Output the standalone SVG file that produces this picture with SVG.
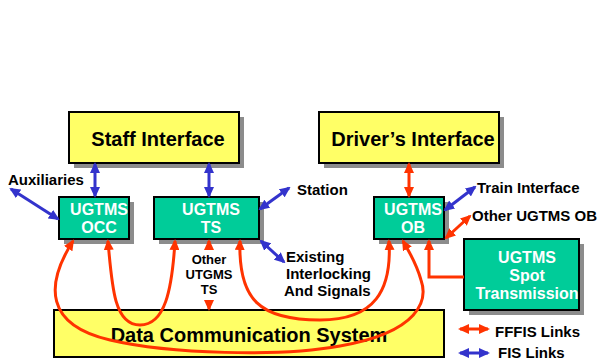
<svg xmlns="http://www.w3.org/2000/svg" width="599" height="361" viewBox="0 0 599 361">
<defs>
<style>
.shadow{fill:#8c8c8c}
.yel{fill:#ffff66;stroke:#000;stroke-width:2}
.grn{fill:#00cc99;stroke:#000;stroke-width:2}
.big{font-family:"Liberation Sans",Arial,sans-serif;font-weight:bold;font-size:20px;fill:#000;text-anchor:middle}
.wt{font-family:"Liberation Sans",Arial,sans-serif;font-weight:bold;font-size:16px;fill:#fff;text-anchor:middle}
.lbl{font-family:"Liberation Sans",Arial,sans-serif;font-weight:bold;font-size:15px;fill:#000}
.sm{font-family:"Liberation Sans",Arial,sans-serif;font-weight:bold;font-size:13px;fill:#000;text-anchor:middle}
.red{stroke:#ff3300;stroke-width:3;fill:none}
.blue{stroke:#3333cc;stroke-width:3;fill:none}
</style>
<marker id="ar" markerUnits="userSpaceOnUse" markerWidth="11" markerHeight="10" refX="9" refY="5" orient="auto-start-reverse"><path d="M0,0 L11,5 L0,10 z" fill="#ff3300"/></marker>
<marker id="ab" markerUnits="userSpaceOnUse" markerWidth="11" markerHeight="10" refX="9" refY="5" orient="auto-start-reverse"><path d="M0,0 L11,5 L0,10 z" fill="#3333cc"/></marker>
</defs>
<rect width="599" height="361" fill="#fff"/>

<g id="staff">
<rect class="shadow" x="74" y="117" width="170" height="51"/>
<rect class="yel" x="69" y="112" width="170" height="51"/>
<text class="big" x="158" y="146">Staff Interface</text>
</g>
<g id="driver">
<rect class="shadow" x="324" y="117" width="180" height="51"/>
<rect class="yel" x="319" y="112" width="180" height="51"/>
<text class="big" x="413" y="146">Driver’s Interface</text>
</g>
<g id="occ">
<rect class="shadow" x="64" y="202" width="70" height="42"/>
<rect class="grn" x="59" y="197" width="70" height="42"/>
<text class="wt" x="99" y="215">UGTMS</text>
<text class="wt" x="99" y="233">OCC</text>
</g>
<g id="ts">
<rect class="shadow" x="159" y="202" width="105" height="42"/>
<rect class="grn" x="154" y="197" width="105" height="42"/>
<text class="wt" x="211" y="215">UGTMS</text>
<text class="wt" x="211" y="233">TS</text>
</g>
<g id="ob">
<rect class="shadow" x="379" y="202" width="70" height="42"/>
<rect class="grn" x="374" y="197" width="70" height="42"/>
<text class="wt" x="413" y="215">UGTMS</text>
<text class="wt" x="413" y="233">OB</text>
</g>
<g id="spot">
<rect class="shadow" x="469" y="244" width="115" height="71"/>
<rect class="grn" x="464" y="239" width="115" height="71"/>
<text class="wt" x="527" y="263">UGTMS</text>
<text class="wt" x="527" y="281">Spot</text>
<text class="wt" x="527" y="299">Transmission</text>
</g>
<g id="dcs">
<rect class="yel" x="54" y="310" width="390" height="47"/>
<text class="big" x="249" y="342">Data Communication System</text>
</g>

<g id="labels">
<text class="lbl" x="8" y="185">Auxiliaries</text>
<text class="lbl" x="297" y="195">Station</text>
<text class="lbl" x="477" y="193">Train Interface</text>
<text class="lbl" x="472" y="221">Other UGTMS OB</text>
<text class="lbl" x="286" y="262">Existing</text>
<text class="lbl" x="286" y="279">Interlocking</text>
<text class="lbl" x="284" y="296">And Signals</text>
<text class="sm" x="209" y="264">Other</text>
<text class="sm" x="209" y="279">UTGMS</text>
<text class="sm" x="209" y="294">TS</text>
<text class="lbl" x="495" y="337">FFFIS Links</text>
<text class="lbl" x="498" y="358">FIS Links</text>
</g>

<g id="connectors">
<line class="blue" x1="95" y1="164" x2="95" y2="196" marker-start="url(#ab)" marker-end="url(#ab)"/>
<line class="blue" x1="209" y1="164" x2="209" y2="196" marker-start="url(#ab)" marker-end="url(#ab)"/>
<line class="red" x1="409" y1="164" x2="409" y2="196" marker-start="url(#ar)" marker-end="url(#ar)"/>
<line class="blue" x1="11" y1="189" x2="58" y2="219" marker-start="url(#ab)" marker-end="url(#ab)"/>
<line class="blue" x1="289" y1="188" x2="260" y2="209" marker-start="url(#ab)" marker-end="url(#ab)"/>
<line class="blue" x1="475" y1="187" x2="445" y2="210" marker-start="url(#ab)" marker-end="url(#ab)"/>
<line class="red" x1="470" y1="216" x2="446" y2="238" marker-start="url(#ar)" marker-end="url(#ar)"/>
<line class="blue" x1="261" y1="241" x2="284" y2="262" marker-start="url(#ab)" marker-end="url(#ab)"/>
<line class="red" x1="209" y1="250" x2="209" y2="241" marker-end="url(#ar)"/>
<line class="red" x1="209" y1="300" x2="209" y2="309" marker-end="url(#ar)"/>
<path class="red" d="M73,241 C45,285 45,325 110,340 C170,354 280,357 340,346 C420,332 428,300 421,280 C416,262 408,250 403,241" marker-start="url(#ar)" marker-end="url(#ar)"/>
<path class="red" d="M108,241 C112,290 115,325 140,325 C165,325 172,290 175,241" marker-start="url(#ar)" marker-end="url(#ar)"/>
<path class="red" d="M240,241 C238,300 260,320 320,320 C375,320 392,290 389,241" marker-start="url(#ar)" marker-end="url(#ar)"/>
<path class="red" d="M464,277 L429,277 L429,241" marker-end="url(#ar)"/>
<line class="red" x1="460" y1="329" x2="488" y2="329" marker-start="url(#ar)" marker-end="url(#ar)"/>
<line class="blue" x1="460" y1="353" x2="488" y2="353" marker-start="url(#ab)" marker-end="url(#ab)"/>
</g>
</svg>
